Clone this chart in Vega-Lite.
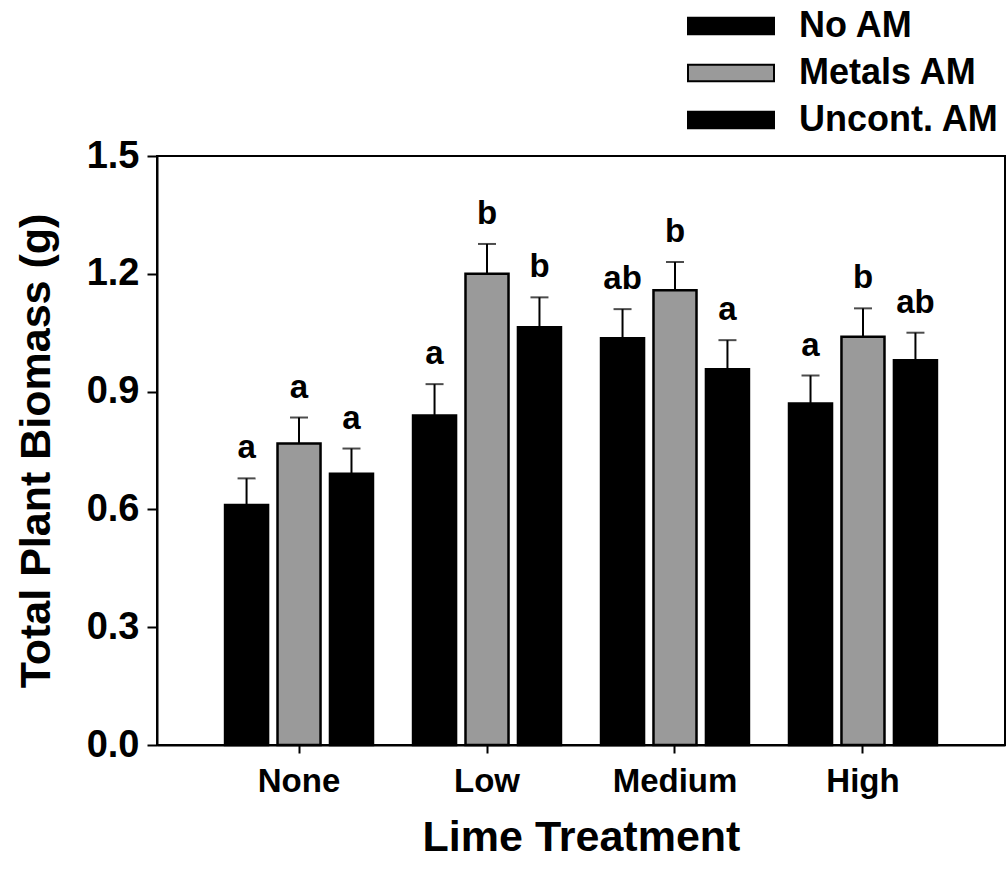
{
  "$schema": "https://vega.github.io/schema/vega-lite/v6.json",
  "autosize": {"type": "none"},
  "width": 848,
  "height": 589,
  "padding": {"left": 157, "top": 156, "right": 3, "bottom": 139},
  "background": "white",
  "config": {
    "font": "Liberation Sans",
    "view": {"stroke": "black", "strokeWidth": 2},
    "axis": {"grid": false, "domainColor": "black", "domainWidth": 2, "tickColor": "black", "tickWidth": 2, "labelColor": "black", "titleColor": "black"}
  },
  "data": {
    "values": [
      {"Lime": "None", "AM": "No AM", "mean": 0.611, "upper": 0.679, "sig": "a"},
      {"Lime": "None", "AM": "Metals AM", "mean": 0.768, "upper": 0.834, "sig": "a"},
      {"Lime": "None", "AM": "Uncont. AM", "mean": 0.691, "upper": 0.755, "sig": "a"},
      {"Lime": "Low", "AM": "No AM", "mean": 0.839, "upper": 0.919, "sig": "a"},
      {"Lime": "Low", "AM": "Metals AM", "mean": 1.200, "upper": 1.276, "sig": "b"},
      {"Lime": "Low", "AM": "Uncont. AM", "mean": 1.064, "upper": 1.140, "sig": "b"},
      {"Lime": "Medium", "AM": "No AM", "mean": 1.036, "upper": 1.110, "sig": "ab"},
      {"Lime": "Medium", "AM": "Metals AM", "mean": 1.158, "upper": 1.230, "sig": "b"},
      {"Lime": "Medium", "AM": "Uncont. AM", "mean": 0.957, "upper": 1.031, "sig": "a"},
      {"Lime": "High", "AM": "No AM", "mean": 0.870, "upper": 0.941, "sig": "a"},
      {"Lime": "High", "AM": "Metals AM", "mean": 1.040, "upper": 1.112, "sig": "b"},
      {"Lime": "High", "AM": "Uncont. AM", "mean": 0.980, "upper": 1.050, "sig": "ab"}
    ]
  },
  "encoding": {
    "x": {
      "field": "Lime", "type": "nominal", "sort": ["None", "Low", "Medium", "High"],
      "scale": {"paddingInner": 0.213, "paddingOuter": 0.362},
      "axis": {"title": "Lime Treatment", "labelAngle": 0, "labelFont": "Liberation Sans", "labelFontSize": 33, "labelFontWeight": "bold", "labelPadding": 12, "tickSize": 8, "titleFontSize": 43, "titleFontWeight": "bold", "titlePadding": 18}
    },
    "xOffset": {
      "field": "AM", "type": "nominal", "sort": ["No AM", "Metals AM", "Uncont. AM"],
      "scale": {"paddingInner": 0.18, "paddingOuter": 0}
    }
  },
  "layer": [
    {
      "mark": {"type": "rule", "color": "black", "strokeWidth": 2},
      "encoding": {
        "y": {"field": "mean", "type": "quantitative"},
        "y2": {"field": "upper"}
      }
    },
    {
      "mark": {"type": "tick", "color": "black", "size": 18, "thickness": 2},
      "encoding": {
        "y": {"field": "upper", "type": "quantitative"}
      }
    },
    {
      "mark": {"type": "bar", "stroke": "black", "strokeWidth": 2.5},
      "encoding": {
        "y": {
          "field": "mean", "type": "quantitative",
          "scale": {"domain": [0, 1.5], "nice": false, "zero": true},
          "axis": {"title": "Total Plant Biomass (g)", "values": [0, 0.3, 0.6, 0.9, 1.2, 1.5], "format": ".1f", "labelFontSize": 38, "labelFontWeight": "bold", "labelPadding": 8, "tickSize": 10, "titleFontSize": 43, "titleFontWeight": "bold", "titlePadding": 28}
        },
        "color": {
          "field": "AM", "type": "nominal",
          "scale": {"domain": ["No AM", "Metals AM", "Uncont. AM"], "range": ["black", "#9a9a9a", "black"]},
          "legend": {
            "title": null, "orient": "none", "legendX": 530, "legendY": -148,
            "symbolType": "M-1,-0.19L1,-0.19L1,0.19L-1,0.19Z", "symbolSize": 7396,
            "symbolStrokeColor": "black", "symbolStrokeWidth": 2, "symbolOpacity": 1,
            "clipHeight": 36,
            "labelFontSize": 36, "labelFontWeight": "bold", "labelColor": "black", "labelOffset": 24, "labelLimit": 400, "rowPadding": 11
          }
        }
      }
    },
    {
      "mark": {"type": "text", "fontSize": 33, "fontWeight": "bold", "color": "black", "baseline": "alphabetic", "dy": -20},
      "encoding": {
        "y": {"field": "upper", "type": "quantitative"},
        "text": {"field": "sig"}
      }
    }
  ]
}
